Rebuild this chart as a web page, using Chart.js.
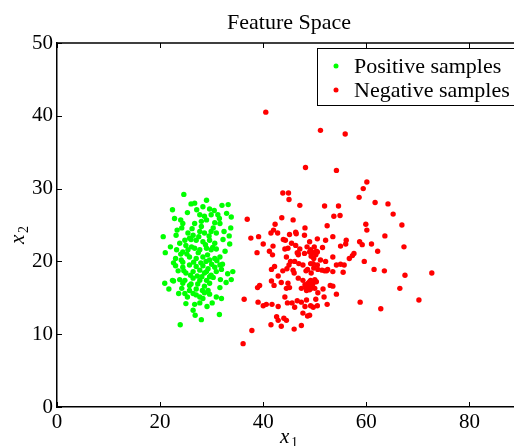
<!DOCTYPE html>
<html>
<head>
<meta charset="utf-8">
<title>Feature Space</title>
<script src="https://cdn.jsdelivr.net/npm/chart.js@4.4.1/dist/chart.umd.min.js"></script>
<style>
  html, body { margin: 0; padding: 0; background: #fff; overflow: hidden; }
  #wrap { width: 530px; height: 446px; }
</style>
</head>
<body>
<div id="wrap"><canvas id="featureChart"></canvas></div>
<script>
// x1 / x2 pairs for each class
const positiveSamples = [
    [24.6,29.2],[26.0,27.9],[26.7,28.0],[29.0,28.4],[32.0,27.7],[33.2,27.8],[22.4,27.1],[29.6,27.2],
    [27.7,26.4],[28.6,26.2],[29.9,26.4],[31.2,26.4],[32.9,26.6],[22.8,25.9],[24.0,25.7],[24.4,25.2],
    [33.8,26.1],[26.7,25.2],[28.0,25.5],[29.0,25.7],[30.6,25.3],[31.6,25.2],[23.3,24.3],[33.7,24.6],
    [25.4,23.9],[26.4,23.6],[27.7,24.1],[28.6,23.9],[29.9,24.1],[30.9,23.9],[20.6,23.4],[33.4,23.5],
    [24.8,22.9],[25.7,23.2],[27.0,22.9],[28.3,22.7],[29.6,22.9],[30.6,22.5],[32.2,23.0],[23.8,22.5],
    [33.5,22.4],[23.2,21.6],[24.4,21.3],[25.4,21.6],[26.7,21.8],[27.7,21.6],[29.0,21.8],[29.9,21.6],
    [30.9,21.7],[21.0,21.2],[25.7,20.6],[27.0,20.4],[28.3,20.6],[29.6,20.2],[30.6,20.4],[31.6,20.6],
    [23.0,20.4],[24.1,20.2],[23.0,19.4],[24.4,19.2],[25.7,19.5],[27.0,19.3],[28.3,19.4],[29.3,19.0],
    [30.6,19.2],[31.6,19.5],[31.9,18.9],[25.0,18.4],[26.4,18.6],[27.7,18.8],[28.6,18.4],[29.9,18.1],
    [30.9,18.6],[34.1,18.6],[33.1,18.3],[33.8,17.5],[31.7,17.5],[23.8,17.5],[24.8,17.4],[26.4,17.7],
    [27.7,17.4],[29.0,17.4],[29.6,17.9],[20.9,17.0],[22.4,17.4],[22.6,17.3],[24.4,17.0],[25.7,16.7],
    [27.3,16.9],[28.6,16.6],[29.6,17.0],[21.7,16.2],[31.6,16.4],[23.6,15.6],[24.8,15.6],[25.7,16.0],
    [26.4,15.6],[27.0,15.4],[28.6,15.7],[29.6,15.5],[27.7,15.1],[28.3,14.9],[30.9,15.1],[31.9,14.9],
    [26.7,14.1],[27.7,14.3],[26.8,12.6],[28.0,12.0],[31.5,12.7],[23.9,11.3],
    [26.1,22.0],[27.4,21.2],[28.8,22.3],[29.2,20.9],[30.2,21.9],[26.5,19.9],[27.9,19.8],[28.9,20.0],
    [25.2,21.0],[26.0,23.0],[27.5,23.4],[29.5,23.5],[30.3,24.6],[28.0,24.8],[26.2,24.5],[25.0,22.2],
    [24.0,21.0],[24.6,18.7],[25.9,18.1],[27.2,18.0],[28.1,17.9],[29.0,18.6],[30.0,19.6],[31.0,20.1],
    [30.3,17.8],[26.0,16.9],[27.0,16.2],[28.2,16.0],[29.3,16.0],[25.3,15.1],[24.2,16.3],[23.5,18.7],
    [22.6,19.8],[22.0,22.0],[23.1,23.6],[24.2,24.6],[25.3,26.7],[27.1,27.1],[28.3,27.5],[30.5,27.0],
    [31.5,25.9],[32.4,24.1],[32.6,21.4],[32.1,19.6],[32.8,17.1],[26.4,13.3],[29.1,13.8],[30.1,14.3],
    [25.0,14.2],[24.4,19.9]
];

const negativeSamples = [
    [40.5,40.5],[51.1,38.0],[55.9,37.5],[48.2,32.9],[54.2,32.5],[60.1,30.9],[59.4,30.0],[58.6,28.8],
    [43.8,29.4],[44.9,29.4],[45.0,28.5],[47.1,27.7],[51.9,27.6],[54.6,27.6],[53.7,26.2],[54.9,26.3],
    [43.6,26.0],[45.8,25.7],[36.9,25.8],
    [61.7,28.1],[64.2,27.9],[65.2,26.5],[59.9,25.1],[60.1,24.3],[66.9,25.0],[63.6,23.5],[58.7,22.7],
    [59.2,22.3],[61.0,22.4],[62.2,21.4],[67.3,22.0],[59.6,20.0],[61.5,18.9],[63.5,18.7],[67.5,18.1],
    [72.7,18.4],[66.5,16.3],[70.2,14.7],[58.8,14.4],[62.8,13.5],
    [52.4,24.9],[50.5,23.1],[52.1,22.9],[53.5,23.4],[49.0,22.7],[49.9,22.0],[51.5,21.9],[56.1,22.9],
    [56.0,22.4],[55.0,22.1],[49.0,21.3],[49.5,21.2],[50.3,21.4],[50.2,20.9],[49.3,20.7],[57.6,21.1],
    [57.3,20.8],[56.7,20.4],[53.5,20.6],[52.1,20.0],[49.8,20.4],[49.2,19.7],[55.0,19.6],[55.7,19.5],
    [54.2,19.5],[49.8,19.1],[50.6,18.9],[51.4,18.8],[51.9,18.7],[52.5,18.9],[53.5,18.6],[55.5,18.5],
    [49.0,17.2],[49.6,17.0],[49.3,16.5],[50.0,16.3],[49.0,16.1],[50.0,17.5],[51.6,16.2],[53.0,16.7],
    [53.5,16.6],[54.2,15.5],[51.8,15.1],[50.6,15.7],[50.2,14.8],[52.4,14.1],[49.2,13.9],[49.7,13.7],
    [50.5,13.9],[49.0,12.6],
    [42.3,25.1],[41.5,23.9],[42.0,24.3],[42.8,23.9],[48.1,24.6],[46.3,24.0],[45.1,23.7],[39.1,23.4],
    [37.6,23.2],[44.3,22.9],[45.5,22.5],[46.3,22.2],[44.2,21.7],[44.8,21.8],[48.5,22.0],[40.0,22.4],
    [41.9,22.1],[41.2,21.4],[41.8,20.9],[38.8,21.2],[46.6,21.2],[46.8,20.9],[44.5,20.6],[45.3,20.0],
    [46.1,20.0],[45.0,19.5],[42.2,19.3],[41.6,18.9],[43.8,18.7],[44.6,19.0],[45.8,18.8],[46.0,18.4],
    [48.3,18.7],[48.6,18.9],
    [42.9,18.0],[41.6,17.3],[42.1,16.7],[39.3,16.7],[38.9,16.4],[43.5,17.1],[44.8,17.0],[45.1,16.4],
    [44.5,16.3],[46.8,17.7],[47.7,17.4],[48.1,16.8],[47.4,16.3],[48.7,17.0],[49.3,16.3],[48.4,16.0],
    [48.9,16.6],[49.6,16.9],[49.2,17.4],[50.3,17.2],[48.3,16.5],
    [36.3,14.8],[39.0,14.4],[40.0,13.9],[40.6,14.1],[41.7,14.1],[42.9,13.8],[44.2,15.1],[44.7,14.3],
    [45.6,14.3],[46.6,14.6],[46.1,13.7],[47.4,14.4],[48.1,13.8],[48.4,14.7],
    [42.6,12.4],[42.9,11.9],[44.0,12.2],[44.5,11.9],[41.5,11.3],[43.5,11.1],[46.0,10.7],[47.4,11.2],
    [37.8,10.5],[36.1,8.7],
    [43.9,23.0],[46.4,23.8],[48.0,23.6],[47.1,21.7],[46.8,21.1],[49.2,21.6],[48.0,21.1],[49.7,21.2],
    [50.5,21.3],[46.9,19.7],[47.7,19.5],[49.3,18.4],[49.7,19.7],[50.5,19.5],[51.1,20.2],[52.3,18.7],
    [47.7,12.9],[48.6,12.5]
];

const seriesNames = ['Positive samples', 'Negative samples'];
const seriesColors = ['#00ff00', '#ff0000'];
const xTicks = [0, 20, 40, 60, 80];
const yTicks = [0, 10, 20, 30, 40, 50];
const xRange = [0, 90];
const yRange = [0, 50];

const serif = "'Liberation Serif', 'Times New Roman', serif";

function toPoints(pairs) {
    return pairs.map(p => ({ x: p[0], y: p[1] }));
}

// frame, inward ticks, title, axis labels and the boxed legend
const decorations = {
    id: 'decorations',
    afterDraw(chart) {
        const ctx = chart.ctx;
        const area = chart.chartArea;
        const xs = chart.scales.x;
        const ys = chart.scales.y;
        ctx.save();

        ctx.strokeStyle = '#000';
        ctx.lineWidth = 1.5;
        ctx.beginPath();
        ctx.moveTo(area.left, area.top);
        ctx.lineTo(area.right, area.top);
        ctx.lineTo(area.right, area.bottom);
        ctx.stroke();

        ctx.lineWidth = 1;
        ctx.beginPath();
        xTicks.forEach(v => {
            const px = Math.round(xs.getPixelForValue(v)) + 0.5;
            ctx.moveTo(px, area.bottom);
            ctx.lineTo(px, area.bottom - 5);
            ctx.moveTo(px, area.top);
            ctx.lineTo(px, area.top + 5);
        });
        yTicks.forEach(v => {
            const py = Math.round(ys.getPixelForValue(v)) + 0.5;
            ctx.moveTo(area.left, py);
            ctx.lineTo(area.left + 5, py);
            ctx.moveTo(area.right, py);
            ctx.lineTo(area.right - 5, py);
        });
        ctx.stroke();

        // title
        ctx.fillStyle = '#000';
        ctx.font = '22px ' + serif;
        ctx.textAlign = 'center';
        ctx.textBaseline = 'alphabetic';
        ctx.fillText('Feature Space', (area.left + area.right) / 2, 29);

        // x1 label
        ctx.textAlign = 'left';
        ctx.font = 'italic 21px ' + serif;
        ctx.fillText('x', 280, 443);
        ctx.font = '14px ' + serif;
        ctx.fillText('1', 291, 447);

        // x2 label, rotated
        ctx.save();
        ctx.translate(24, 244);
        ctx.rotate(-Math.PI / 2);
        ctx.font = 'italic 21px ' + serif;
        ctx.fillText('x', 0, 0);
        ctx.font = '14px ' + serif;
        ctx.fillText('2', 11, 4);
        ctx.restore();

        // legend box
        const bx = 317, by = 48, bw = 220, bh = 57;
        ctx.fillStyle = '#fff';
        ctx.fillRect(bx, by, bw, bh);
        ctx.strokeStyle = '#000';
        ctx.lineWidth = 1;
        ctx.strokeRect(bx + 0.5, by + 0.5, bw, bh);
        ctx.font = '22px ' + serif;
        ctx.textBaseline = 'middle';
        seriesNames.forEach((name, i) => {
            const cy = by + 18 + i * 24;
            ctx.fillStyle = seriesColors[i];
            ctx.beginPath();
            ctx.arc(bx + 19, cy, 2.5, 0, Math.PI * 2);
            ctx.fill();
            ctx.fillStyle = '#000';
            ctx.fillText(name, bx + 37, cy + 1);
        });

        ctx.restore();
    }
};

const ctx = document.getElementById('featureChart');
new Chart(ctx, {
    type: 'scatter',
    data: {
        datasets: [
            {
                label: seriesNames[0],
                data: toPoints(positiveSamples),
                backgroundColor: seriesColors[0],
                borderWidth: 0,
                pointRadius: 2.7
            },
            {
                label: seriesNames[1],
                data: toPoints(negativeSamples),
                backgroundColor: seriesColors[1],
                borderWidth: 0,
                pointRadius: 2.7
            }
        ]
    },
    options: {
        responsive: true,
        maintainAspectRatio: false,
        animation: false,
        layout: {
            padding: { top: 43, right: 9, left: 0, bottom: 0 }
        },
        plugins: {
            legend: { display: false },
            title: { display: false },
            tooltip: { enabled: false }
        },
        scales: {
            x: {
                type: 'linear',
                min: xRange[0],
                max: xRange[1],
                afterBuildTicks: scale => {
                    scale.ticks = xTicks.map(v => ({ value: v }));
                },
                afterFit: scale => { scale.height = 39; },
                ticks: {
                    color: '#000',
                    font: { family: serif, size: 21 },
                    padding: 3,
                    maxRotation: 0
                },
                grid: { display: false, drawTicks: false },
                border: { display: true, color: '#000', width: 1.5 }
            },
            y: {
                type: 'linear',
                min: yRange[0],
                max: yRange[1],
                afterBuildTicks: scale => {
                    scale.ticks = yTicks.map(v => ({ value: v }));
                },
                afterFit: scale => { scale.width = 57; },
                ticks: {
                    color: '#000',
                    font: { family: serif, size: 21 },
                    padding: 4
                },
                grid: { display: false, drawTicks: false },
                border: { display: true, color: '#000', width: 1.5 }
            }
        }
    },
    plugins: [decorations]
});
</script>
</body>
</html>
